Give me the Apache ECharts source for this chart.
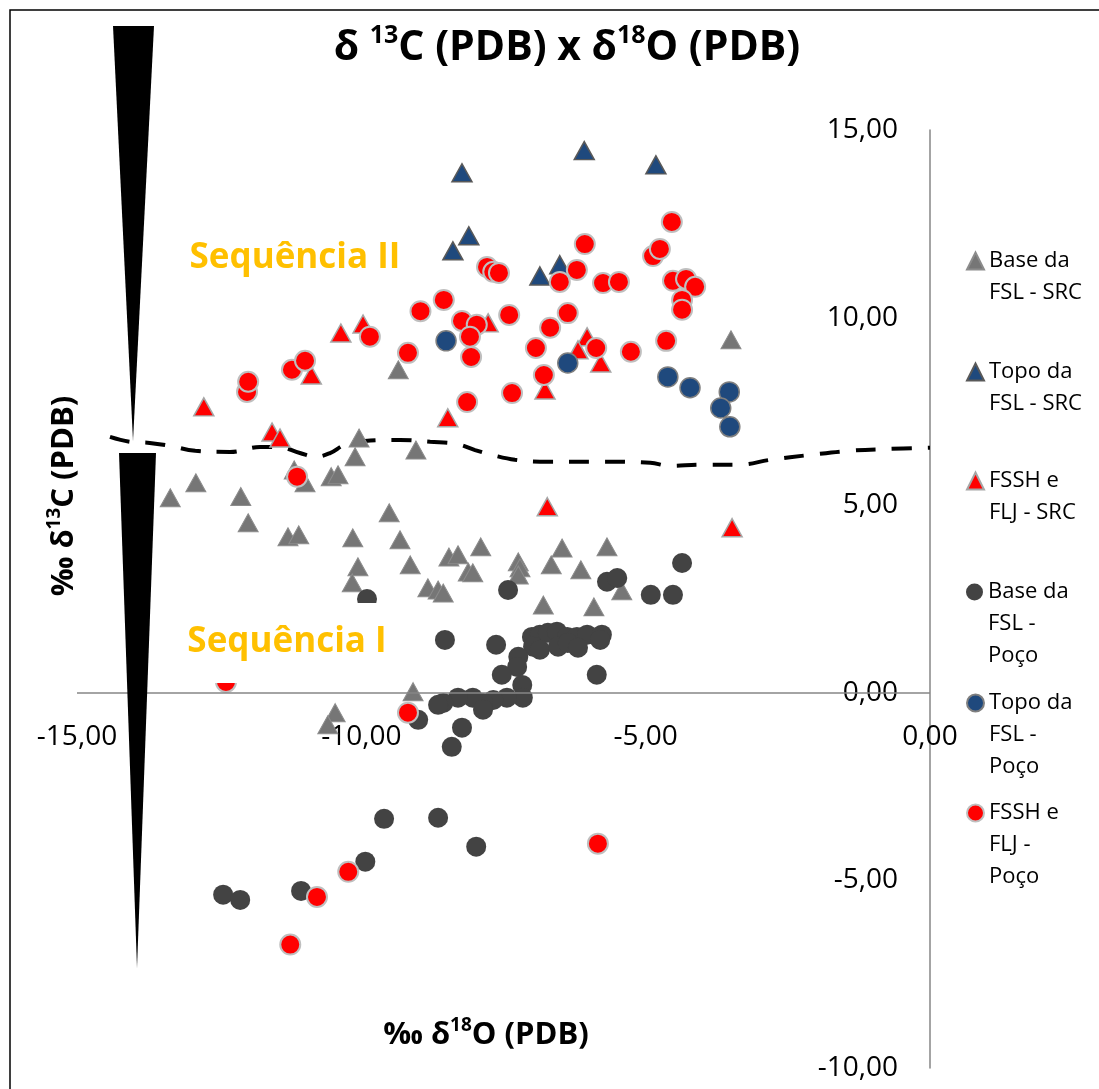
<!DOCTYPE html>
<html>
<head>
<meta charset="utf-8">
<script src="https://cdn.jsdelivr.net/npm/echarts@6/dist/echarts.min.js"></script>
<style>
  html, body { margin: 0; padding: 0; background: #fff; }
  #chart { width: 1099px; height: 1089px; }
</style>
</head>
<body>
<div id="chart"></div>
<script>
const chart = echarts.init(document.getElementById('chart'));

const FONT = 'Open Sans';

// pontos [δ18O, δ13C]
const baseSRC = [
  [-13.36, 5.20], [-12.91, 5.60], [-12.12, 5.23], [-11.99, 4.53], [-11.29, 4.16], [-11.10, 4.21],
  [-11.18, 5.94], [-10.99, 5.60], [-10.53, 5.76], [-10.41, 5.81], [-10.04, 6.79], [-10.11, 6.29],
  [-9.04, 6.47], [-9.51, 4.80], [-10.15, 4.13], [-9.32, 4.08], [-10.06, 3.36], [-10.16, 2.93],
  [-9.14, 3.41], [-8.46, 3.62], [-8.30, 3.68], [-7.90, 3.89], [-8.12, 3.22], [-8.04, 3.20],
  [-8.83, 2.80], [-8.65, 2.74], [-8.56, 2.66], [-9.09, 0.03], [-10.46, -0.53], [-10.59, -0.85],
  [-9.35, 8.61], [-3.50, 9.41], [-7.24, 3.49], [-7.21, 3.33], [-7.24, 3.14], [-6.47, 3.86],
  [-6.66, 3.41], [-6.14, 3.28], [-5.68, 3.89], [-6.80, 2.34], [-5.91, 2.29], [-5.42, 2.72]
];

const topoSRC = [
  [-8.23, 13.86], [-6.08, 14.45], [-4.82, 14.07], [-8.11, 12.18], [-8.39, 11.78],
  [-6.86, 11.11], [-6.51, 11.41]
];

const fsshSRC = [
  [-12.77, 7.62], [-11.57, 6.95], [-11.43, 6.79], [-10.88, 8.47], [-10.36, 9.59], [-9.97, 9.83],
  [-8.48, 7.33], [-7.77, 9.86], [-6.03, 9.49], [-6.19, 9.14], [-5.79, 8.79], [-6.77, 8.07],
  [-6.73, 4.96], [-3.48, 4.40]
];

const basePoco = [
  [-9.90, 2.50], [-8.53, 1.41], [-7.63, 1.28], [-7.42, 2.74], [-5.68, 2.96], [-5.50, 3.06],
  [-4.91, 2.61], [-4.52, 2.61], [-4.36, 3.46], [-5.86, 0.48], [-7.00, 1.49], [-6.86, 1.55],
  [-6.72, 1.60], [-6.56, 1.63], [-6.38, 1.49], [-6.21, 1.49], [-6.03, 1.55], [-5.77, 1.55],
  [-6.98, 1.23], [-6.86, 1.15], [-6.54, 1.23], [-6.37, 1.33], [-6.19, 1.20], [-5.80, 1.41],
  [-7.24, 0.96], [-7.26, 0.69], [-7.53, 0.48], [-7.17, 0.21], [-7.16, -0.13], [-7.44, -0.13],
  [-7.68, -0.19], [-7.86, -0.27], [-8.04, -0.13], [-8.30, -0.13], [-8.56, -0.27], [-7.86, -0.45],
  [-8.23, -0.93], [-9.00, -0.72], [-8.65, -0.32], [-8.41, -1.44], [-9.60, -3.36], [-8.65, -3.33],
  [-7.98, -4.10], [-9.93, -4.50], [-11.06, -5.28], [-12.43, -5.38], [-12.13, -5.52]
];

const topoPoco = [
  [-8.51, 9.38], [-6.37, 8.79], [-4.61, 8.42], [-4.22, 8.13], [-3.53, 8.02], [-3.68, 7.59],
  [-3.52, 7.09]
];

const fsshPoco = [
  [-12.01, 8.02], [-11.99, 8.29], [-11.22, 8.61], [-10.99, 8.85], [-9.85, 9.49], [-8.96, 10.17],
  [-9.18, 9.06], [-8.55, 10.47], [-8.23, 9.91], [-7.97, 9.81], [-8.09, 9.49], [-8.07, 8.95],
  [-8.14, 7.75], [-7.79, 11.35], [-7.68, 11.22], [-7.58, 11.19], [-7.40, 10.07], [-7.35, 7.99],
  [-6.93, 9.19], [-6.79, 8.47], [-6.68, 9.73], [-6.37, 10.12], [-6.51, 10.95], [-6.21, 11.27],
  [-6.07, 11.96], [-5.87, 9.19], [-5.75, 10.92], [-5.47, 10.95], [-5.26, 9.09], [-4.64, 9.38],
  [-4.87, 11.64], [-4.75, 11.83], [-4.54, 12.55], [-4.52, 10.98], [-4.29, 11.03], [-4.13, 10.82],
  [-4.36, 10.47], [-4.36, 10.21], [-11.13, 5.76], [-12.38, 0.29], [-9.18, -0.53], [-10.23, -4.77],
  [-10.78, -5.44], [-11.25, -6.71], [-5.84, -4.02]
];

// linha tracejada entre as sequências
const limite = [
  [-14.42, 6.82], [-14.07, 6.69], [-13.72, 6.66], [-13.36, 6.58], [-12.92, 6.45], [-12.31, 6.42],
  [-11.78, 6.55], [-11.46, 6.55], [-11.08, 6.39], [-10.81, 6.29], [-10.55, 6.39], [-10.29, 6.61],
  [-9.94, 6.71], [-9.32, 6.74], [-8.79, 6.69], [-8.32, 6.63], [-8.00, 6.47], [-7.65, 6.32],
  [-7.30, 6.21], [-6.86, 6.16], [-5.80, 6.16], [-4.92, 6.13], [-4.57, 6.05], [-4.04, 6.08],
  [-3.34, 6.08], [-2.81, 6.21], [-2.11, 6.34], [-1.41, 6.45], [-0.70, 6.50], [0, 6.53]
];

const xTicks = [-15, -10, -5, 0];
const yTicks = [-10, -5, 0, 5, 10, 15];

const names = [
  'Base da FSL - SRC', 'Topo da FSL - SRC', 'FSSH e FLJ - SRC',
  'Base da FSL - Poço', 'Topo da FSL - Poço', 'FSSH e FLJ - Poço'
];
const legendText = [
  'Base da\nFSL - SRC', 'Topo da\nFSL - SRC', 'FSSH e\nFLJ - SRC',
  'Base da\nFSL -\nPoço', 'Topo da\nFSL -\nPoço', 'FSSH e\nFLJ -\nPoço'
];
const legendY = [261, 372, 481, 592, 703, 813];

const fmt = v => v.toFixed(2).replace('.', ',');

function scatter(name, data, symbol, color, border, bw) {
  return {
    name: name,
    type: 'scatter',
    data: data,
    symbol: symbol,
    symbolSize: symbol === 'triangle' ? [20, 18] : 20,
    itemStyle: { color: color, borderColor: border, borderWidth: bw, opacity: 1 },
    emphasis: { disabled: true }
  };
}

// uma legenda por item; linhas vazias antes do texto deixam o ícone na primeira linha
const legends = names.map((n, i) => {
  const lines = legendText[i].split('\n').length;
  return {
    data: [{ name: n, icon: i < 3 ? 'triangle' : 'circle' }],
    orient: 'vertical',
    left: 966,
    top: legendY[i] - (2 * lines - 1) * 16,
    padding: 0,
    itemWidth: 17,
    itemHeight: 17,
    itemGap: 0,
    selectedMode: false,
    formatter: name => {
      const t = legendText[names.indexOf(name)];
      return '\n'.repeat(t.split('\n').length - 1) + t;
    },
    textStyle: { fontFamily: FONT, fontSize: 22, lineHeight: 32, color: '#000' }
  };
});

const option = {
  animation: false,
  backgroundColor: '#fff',
  grid: { left: 77, right: 169, top: 130, bottom: 21, containLabel: false, outerBoundsMode: 'none' },
  legend: legends,
  xAxis: {
    type: 'value',
    position: 'bottom',
    min: xTicks[0],
    max: xTicks[xTicks.length - 1],
    interval: 5,
    axisLine: { show: false, onZero: false },
    axisTick: { show: false },
    splitLine: { show: false },
    axisLabel: { inside: true, formatter: fmt, fontFamily: FONT, fontSize: 28, color: '#000', margin: 317 }
  },
  yAxis: {
    type: 'value',
    position: 'right',
    min: yTicks[0],
    max: yTicks[yTicks.length - 1],
    interval: 5,
    axisLine: { show: true, onZero: false, lineStyle: { color: '#868686', width: 1.5 } },
    axisTick: { show: false },
    splitLine: { show: false },
    axisLabel: { inside: true, formatter: fmt, fontFamily: FONT, fontSize: 28, color: '#000', margin: 32 }
  },
  series: [
    {
      name: 'limite',
      type: 'line',
      data: limite,
      smooth: 0.4,
      symbol: 'none',
      lineStyle: { color: '#000', width: 4, type: [20, 16] },
      emphasis: { disabled: true },
      z: 1,
      markLine: {
        silent: true,
        symbol: 'none',
        label: { show: false },
        lineStyle: { color: '#868686', width: 1.5, type: 'solid' },
        data: [{ yAxis: 0 }]
      }
    },
    scatter(names[0], baseSRC, 'triangle', '#767676', '#8c8c8c', 1),
    scatter(names[1], topoSRC, 'triangle', '#1F497D', '#595959', 1.5),
    scatter(names[2], fsshSRC, 'triangle', '#FF0000', '#A6A6A6', 1.5),
    scatter(names[3], basePoco, 'circle', '#434343', '#434343', 0),
    scatter(names[4], topoPoco, 'circle', '#1F497D', '#7F7F7F', 1.5),
    scatter(names[5], fsshPoco, 'circle', '#FF0000', '#BFBFBF', 2)
  ],
  graphic: [
    {
      type: 'rect', silent: true, z: 100,
      shape: { x: 10, y: 10, width: 1200, height: 1200 },
      style: { fill: 'none', stroke: '#000', lineWidth: 1.5 }
    },
    {
      type: 'polygon', silent: true, z: 100,
      shape: { points: [[113, 26], [154, 26], [133, 441]] },
      style: { fill: '#000' }
    },
    {
      type: 'polygon', silent: true, z: 100,
      shape: { points: [[119, 453], [156, 453], [137, 968]] },
      style: { fill: '#000' }
    },
    {
      type: 'text', silent: true, z: 100,
      x: 567, y: 48,
      style: {
        text: '{b|δ }{s|13}{b|C (PDB) x δ}{s|18}{b|O (PDB)}',
        align: 'center', verticalAlign: 'middle',
        rich: {
          b: { fontFamily: FONT, fontSize: 41, fontWeight: 'bold', lineHeight: 50, fill: '#000' },
          s: { fontFamily: FONT, fontSize: 25, fontWeight: 'bold', lineHeight: 30, verticalAlign: 'top', fill: '#000' }
        }
      }
    },
    {
      type: 'text', silent: true, z: 100,
      x: 64, y: 496, rotation: Math.PI / 2,
      style: {
        text: '{b|‰ δ}{s|13}{b|C (PDB)}',
        align: 'center', verticalAlign: 'middle',
        rich: {
          b: { fontFamily: FONT, fontSize: 31, fontWeight: 'bold', lineHeight: 38, fill: '#000' },
          s: { fontFamily: FONT, fontSize: 19, fontWeight: 'bold', lineHeight: 22, verticalAlign: 'top', fill: '#000' }
        }
      }
    },
    {
      type: 'text', silent: true, z: 100,
      x: 486, y: 1035,
      style: {
        text: '{b|‰ δ}{s|18}{b|O (PDB)}',
        align: 'center', verticalAlign: 'middle',
        rich: {
          b: { fontFamily: FONT, fontSize: 31, fontWeight: 'bold', lineHeight: 38, fill: '#000' },
          s: { fontFamily: FONT, fontSize: 19, fontWeight: 'bold', lineHeight: 22, verticalAlign: 'top', fill: '#000' }
        }
      }
    },
    {
      type: 'text', silent: true, z: 100,
      x: 295, y: 258,
      style: {
        text: 'Sequência II', align: 'center', verticalAlign: 'middle',
        fontFamily: FONT, fontSize: 35, fontWeight: 'bold', fill: '#FFC000'
      }
    },
    {
      type: 'rect', silent: true, z: 99,
      shape: { x: 175, y: 603, width: 225, height: 80 },
      style: { fill: '#fff' }
    },
    {
      type: 'text', silent: true, z: 100,
      x: 287, y: 642,
      style: {
        text: 'Sequência I', align: 'center', verticalAlign: 'middle',
        fontFamily: FONT, fontSize: 35, fontWeight: 'bold', fill: '#FFC000'
      }
    }
  ]
};

chart.setOption(option);
</script>
</body>
</html>
